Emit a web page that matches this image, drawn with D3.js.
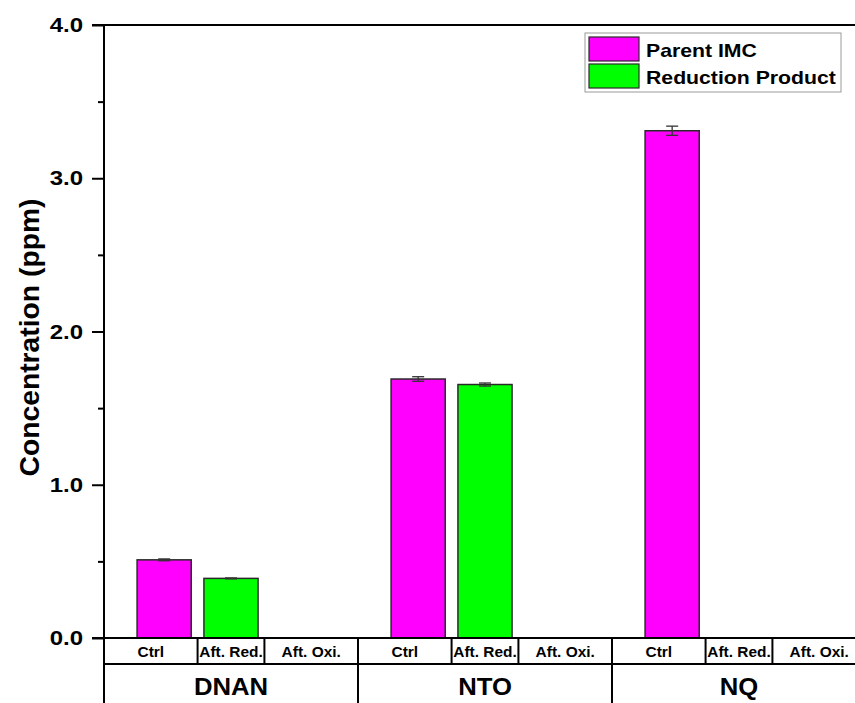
<!DOCTYPE html>
<html>
<head>
<meta charset="utf-8">
<script src="https://cdn.jsdelivr.net/npm/d3@7"></script>
<style>
  html, body { margin: 0; padding: 0; background: #fff; }
  svg { display: block; font-family: "Liberation Sans", Arial, sans-serif; }
</style>
</head>
<body>
<svg id="chart" width="855" height="703"></svg>
<script>
// Compound groups and treatment steps along the x axis
const groups = ["DNAN", "NTO", "NQ"];
const treatments = ["Ctrl", "Aft. Red.", "Aft. Oxi."];

// Parent IMC concentration (measured at Ctrl), ppm
const parentValues = [0.51, 1.69, 3.31];
const parentErrors = [0.006, 0.015, 0.03];

// Reduction product concentration (measured Aft. Red.), ppm
const reductionValues = [0.389, 1.654, null];
const reductionErrors = [0.003, 0.01, null];

// Y axis ticks
const yMajorTicks = [0, 1, 2, 3, 4];
const yMinorTicks = [0.5, 1.5, 2.5, 3.5];

const seriesNames = ["Parent IMC", "Reduction Product"];
const seriesColors = ["#ff00ff", "#00ff00"];

const svg = d3.select("#chart");

const plotLeft = 104, plotRight = 866, plotTop = 25, plotBottom = 638;
const subRowBottom = 664, figBottom = 703;

const x0 = d3.scaleBand().domain(groups).range([plotLeft, plotRight]).padding(0);
const x1 = d3.scalePoint().domain(treatments).range([0, x0.bandwidth()]).padding(0.9);
const y = d3.scaleLinear().domain([0, 4]).range([plotBottom, plotTop]);
const barW = x1.step() * 0.81;

// Places a wide-set bold label: anchored at (x, y), widened by sx
function wideText(parent, x, yPos, str, size, sx, anchor) {
  return parent.append("text")
    .attr("transform", `translate(${x},${yPos}) scale(${sx},1)`)
    .attr("text-anchor", anchor || "middle")
    .attr("font-size", size).attr("font-weight", "bold")
    .attr("fill", "#000")
    .text(str);
}

// Bar records built from the series arrays
const bars = [];
groups.forEach((g, i) => {
  if (parentValues[i] != null) bars.push({ g, t: "Ctrl", v: parentValues[i], e: parentErrors[i], c: seriesColors[0] });
  if (reductionValues[i] != null) bars.push({ g, t: "Aft. Red.", v: reductionValues[i], e: reductionErrors[i], c: seriesColors[1] });
});

const cx = d => x0(d.g) + x1(d.t);

svg.append("g").selectAll("rect").data(bars).join("rect")
  .attr("x", d => cx(d) - barW / 2)
  .attr("y", d => y(d.v))
  .attr("width", barW)
  .attr("height", d => y(0) - y(d.v))
  .attr("fill", d => d.c)
  .attr("stroke", "#2a2a2a")
  .attr("stroke-width", 1.5);

// Error bars
const eb = svg.append("g").attr("stroke", "#333").attr("stroke-width", 1.3);
bars.forEach(d => {
  const x = cx(d), y1 = y(d.v + d.e), y2 = y(d.v - d.e), cw = 6;
  eb.append("line").attr("x1", x).attr("x2", x).attr("y1", y1).attr("y2", y2);
  eb.append("line").attr("x1", x - cw).attr("x2", x + cw).attr("y1", y1).attr("y2", y1);
  eb.append("line").attr("x1", x - cw).attr("x2", x + cw).attr("y1", y2).attr("y2", y2);
});

// Y axis with major and minor ticks (labels drawn separately, widened)
const yAxis = svg.append("g").attr("transform", `translate(${plotLeft},0)`)
  .call(d3.axisLeft(y).tickValues(yMajorTicks).tickSize(12).tickFormat(""));
yAxis.select(".domain").remove();
yAxis.selectAll(".tick line").attr("stroke", "#000").attr("stroke-width", 2);
const fmt = d3.format(".1f");
yMajorTicks.forEach(v => {
  wideText(svg, plotLeft - 21, y(v) + 7, fmt(v), 20, 1.2, "end");
});

const yMinor = svg.append("g").attr("transform", `translate(${plotLeft},0)`)
  .call(d3.axisLeft(y).tickValues(yMinorTicks).tickSize(6).tickFormat(""));
yMinor.select(".domain").remove();
yMinor.selectAll(".tick line").attr("stroke", "#000").attr("stroke-width", 2);

// Frame lines: left axis (extends through the label table), top border, x axis
const frame = svg.append("g").attr("stroke", "#000").attr("stroke-width", 2);
frame.append("line").attr("x1", plotLeft).attr("x2", plotLeft).attr("y1", plotTop - 1).attr("y2", figBottom);
frame.append("line").attr("x1", plotLeft - 12).attr("x2", plotRight).attr("y1", plotTop).attr("y2", plotTop);
frame.append("line").attr("x1", plotLeft - 12).attr("x2", plotRight).attr("y1", plotBottom).attr("y2", plotBottom);
frame.append("line").attr("x1", plotLeft).attr("x2", plotRight).attr("y1", subRowBottom).attr("y2", subRowBottom);

// Label table: treatment cells and group cells
groups.forEach((g, gi) => {
  const gx = x0(g);
  const pts = treatments.map(t => gx + x1(t));
  const bounds = [gx, (pts[0] + pts[1]) / 2, (pts[1] + pts[2]) / 2, gx + x0.bandwidth()];
  // inner dividers between treatment cells
  [bounds[1], bounds[2]].forEach(b => {
    frame.append("line").attr("x1", b).attr("x2", b).attr("y1", plotBottom).attr("y2", subRowBottom);
  });
  // group divider on the right side
  if (gi < groups.length - 1) {
    frame.append("line").attr("x1", bounds[3]).attr("x2", bounds[3]).attr("y1", plotBottom).attr("y2", figBottom);
  }
  treatments.forEach((t, ti) => {
    wideText(svg, (bounds[ti] + bounds[ti + 1]) / 2, 657, t, 15, 1.03);
  });
  wideText(svg, gx + x0.bandwidth() / 2, 695, g, 24, 1.07);
});

// Y axis title
svg.append("text")
  .attr("transform", `translate(39,${(plotTop + plotBottom) / 2 + 6}) rotate(-90)`)
  .attr("text-anchor", "middle")
  .attr("font-size", 27).attr("font-weight", "bold")
  .attr("textLength", 278).attr("lengthAdjust", "spacingAndGlyphs")
  .text("Concentration (ppm)");

// Legend
const lg = svg.append("g").attr("transform", "translate(585,33)");
lg.append("rect").attr("width", 256).attr("height", 59)
  .attr("fill", "#fff").attr("stroke", "#9a9a9a").attr("stroke-width", 1);
seriesNames.forEach((name, i) => {
  lg.append("rect").attr("x", 4).attr("y", 4 + i * 27).attr("width", 50).attr("height", 24)
    .attr("fill", seriesColors[i]).attr("stroke", "#2a2a2a").attr("stroke-width", 1.2);
  wideText(lg, 61, 24 + i * 27, name, 18, 1.18, "start");
});
</script>
</body>
</html>
